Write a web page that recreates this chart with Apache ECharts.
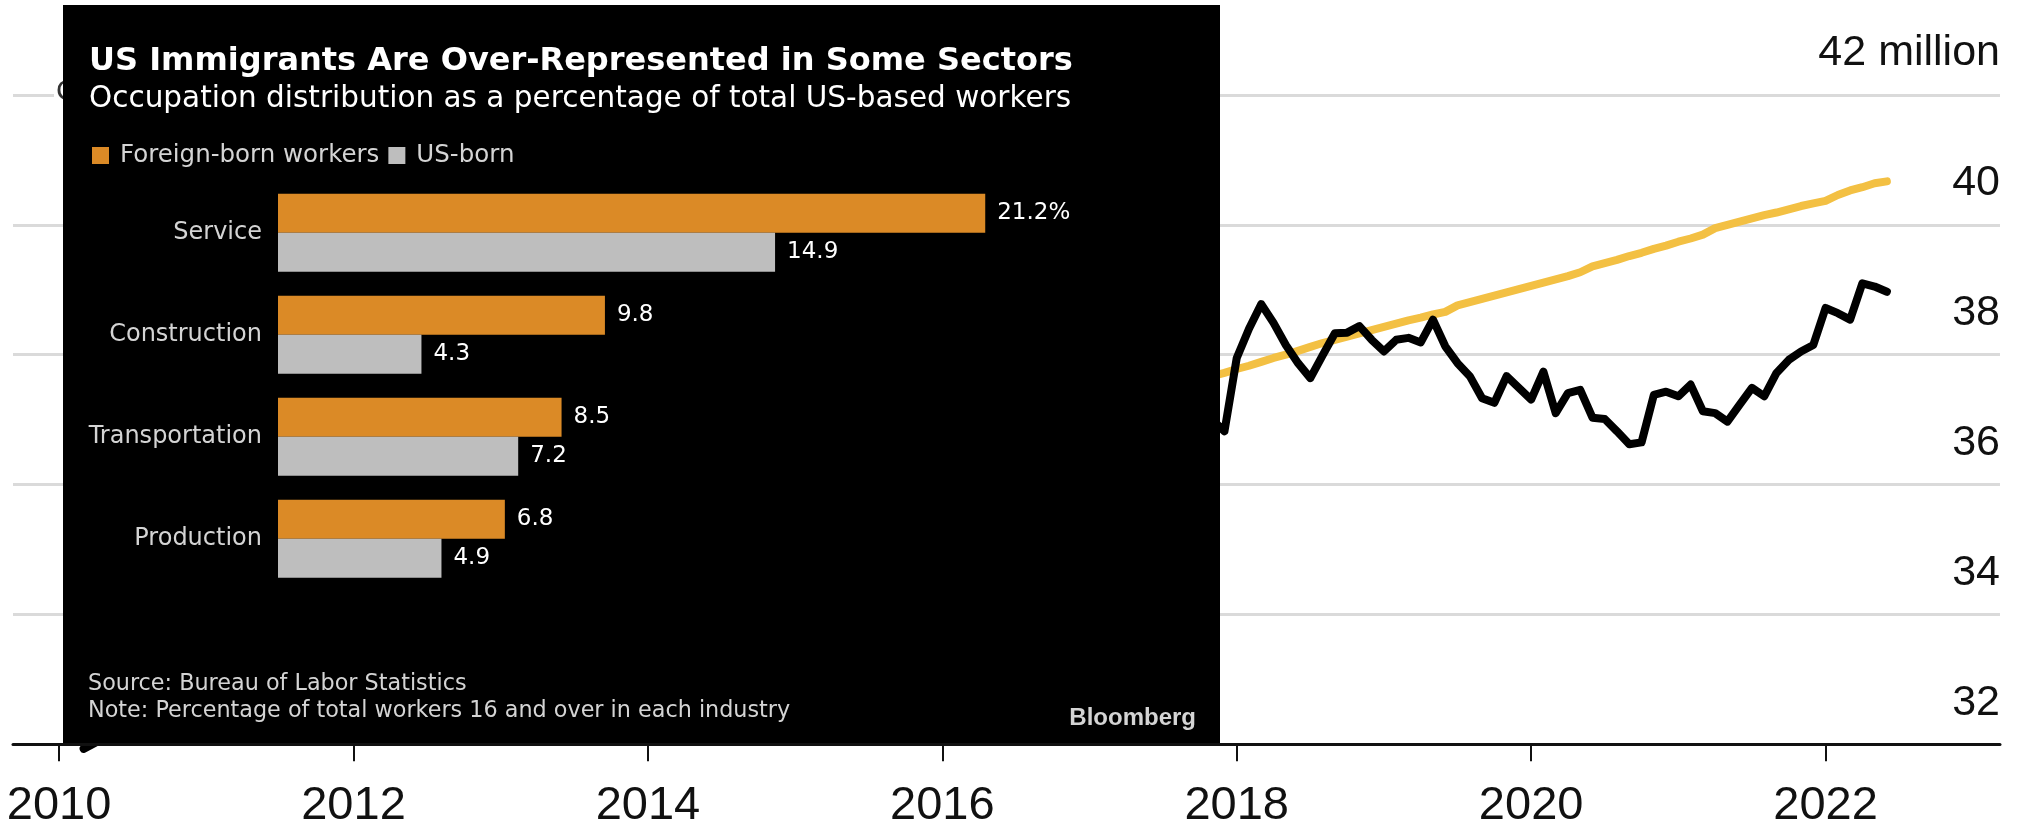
<!DOCTYPE html>
<html>
<head>
<meta charset="utf-8">
<script src="https://cdn.jsdelivr.net/npm/echarts@6/dist/echarts.min.js"></script>
<style>
html,body{margin:0;padding:0;background:#fff;}
#chart{width:2031px;height:832px;}
</style>
</head>
<body>
<div id="chart"></div>
<script>
// ---------- Inset bar chart data ----------
const categories = ['Service', 'Construction', 'Transportation', 'Production'];
const foreignBorn = [21.2, 9.8, 8.5, 6.8];
const usBorn = [14.9, 4.3, 7.2, 4.9];
const barSeriesNames = ['Foreign-born workers', 'US-born'];

// ---------- Background line chart data (millions) ----------
const xTickYears = [2010, 2012, 2014, 2016, 2018, 2020, 2022];
const yTicks = [32, 34, 36, 38, 40, 42];

const blackMonths = ['2010-03','2010-04','2017-11','2017-12',
 '2018-01','2018-02','2018-03','2018-04','2018-05','2018-06','2018-07','2018-08','2018-09','2018-10','2018-11','2018-12',
 '2019-01','2019-02','2019-03','2019-04','2019-05','2019-06','2019-07','2019-08','2019-09','2019-10','2019-11','2019-12',
 '2020-01','2020-02','2020-03','2020-04','2020-05','2020-06','2020-07','2020-08','2020-09','2020-10','2020-11','2020-12',
 '2021-01','2021-02','2021-03','2021-04','2021-05','2021-06','2021-07','2021-08','2021-09','2021-10','2021-11','2021-12',
 '2022-01','2022-02','2022-03','2022-04','2022-05','2022-06'];
const blackValues = [31.93, 32.03, 37.0, 36.82,
 37.95, 38.40, 38.78, 38.49, 38.15, 37.87, 37.64, 37.99, 38.33, 38.34, 38.44, 38.23,
 38.05, 38.23, 38.26, 38.19, 38.54, 38.13, 37.87, 37.67, 37.33, 37.26, 37.67, 37.49,
 37.31, 37.74, 37.10, 37.41, 37.46, 37.03, 37.01, 36.82, 36.62, 36.65, 37.38, 37.43,
 37.36, 37.54, 37.13, 37.10, 36.97, 37.23, 37.49, 37.36, 37.72, 37.92, 38.05, 38.15,
 38.72, 38.64, 38.54, 39.10, 39.05, 38.97];

const yellowMonths = ['2017-11','2017-12',
 '2018-01','2018-02','2018-03','2018-04','2018-05','2018-06','2018-07','2018-08','2018-09','2018-10','2018-11','2018-12',
 '2019-01','2019-02','2019-03','2019-04','2019-05','2019-06','2019-07','2019-08','2019-09','2019-10','2019-11','2019-12',
 '2020-01','2020-02','2020-03','2020-04','2020-05','2020-06','2020-07','2020-08','2020-09','2020-10','2020-11','2020-12',
 '2021-01','2021-02','2021-03','2021-04','2021-05','2021-06','2021-07','2021-08','2021-09','2021-10','2021-11','2021-12',
 '2022-01','2022-02','2022-03','2022-04','2022-05','2022-06'];
const yellowValues = [37.67, 37.72,
 37.78, 37.83, 37.89, 37.95, 38.00, 38.06, 38.12, 38.18, 38.23, 38.28, 38.33, 38.38,
 38.43, 38.48, 38.53, 38.57, 38.62, 38.66, 38.76, 38.81, 38.86, 38.91, 38.96, 39.01,
 39.06, 39.11, 39.16, 39.21, 39.27, 39.36, 39.41, 39.46, 39.52, 39.57, 39.63, 39.68,
 39.74, 39.79, 39.85, 39.95, 40.00, 40.05, 40.10, 40.15, 40.19, 40.24, 40.29, 40.33,
 40.37, 40.46, 40.53, 40.58, 40.64, 40.67];

function toYear(s) { const p = s.split('-').map(Number); return p[0] + (p[1] - 1) / 12; }
const blackData = blackMonths.map((m, i) => [toYear(m), blackValues[i]]);
const yellowData = yellowMonths.map((m, i) => [toYear(m), yellowValues[i]]);

const panelFont = "'DejaVu Sans', sans-serif";
const axisFont = "'Liberation Sans', Arial, sans-serif";

const chart = echarts.init(document.getElementById('chart'), null, {renderer: 'canvas'});
chart.setOption({
  backgroundColor: '#ffffff',
  animation: false,
  grid: [
    {left: 13, right: 31, top: 95, bottom: 87.7},
    {left: 278, top: 181.7, width: 834, height: 408}
  ],
  xAxis: [
    {
      gridIndex: 0, type: 'value', min: 2009.687, max: 2023.185,
      splitLine: {show: false},
      axisLine: {show: true, lineStyle: {color: '#111', width: 3}},
      axisTick: {show: true, customValues: xTickYears, length: 17, lineStyle: {color: '#111', width: 2}},
      axisLabel: {customValues: xTickYears, formatter: v => String(Math.round(v)),
        fontSize: 47, color: '#111', margin: 38, fontFamily: axisFont},
      z: 5
    },
    {gridIndex: 1, type: 'value', min: 0, max: 25, show: false}
  ],
  yAxis: [
    {
      gridIndex: 0, type: 'value', position: 'right', min: 32, max: 42, interval: 2,
      axisLine: {show: false}, axisTick: {show: false},
      splitLine: {show: true, showMinLine: false, lineStyle: {color: '#dadada', width: 3}},
      axisLabel: {inside: true, margin: 0, fontSize: 43, color: '#111', fontFamily: axisFont,
        verticalAlign: 'bottom', padding: [0, 0, 20, 0],
        formatter: v => v === 42 ? '42 million' : String(v)}
    },
    {
      gridIndex: 1, type: 'category', data: categories, inverse: true,
      axisLine: {show: false}, axisTick: {show: false}, splitLine: {show: false},
      axisLabel: {color: '#d4d4d4', fontSize: 24, margin: 16, fontFamily: panelFont},
      z: 30
    }
  ],
  legend: {
    data: barSeriesNames, left: 92, top: 143, padding: 0,
    itemWidth: 17, itemHeight: 17, itemGap: 9, icon: 'rect', selectedMode: false,
    textStyle: {color: '#d4d4d4', fontSize: 24.5, fontFamily: panelFont, padding: [0, 0, 0, 6]},
    z: 30
  },
  graphic: {
    elements: [
      {type: 'text', x: 54, y: 92, z: 1,
        style: {text: 'C', fontSize: 30, fontFamily: axisFont, fill: '#333',
          verticalAlign: 'middle', backgroundColor: '#fff', padding: [2, 2, 2, 2]}},
      {type: 'rect', z: 10, shape: {x: 63, y: 5, width: 1157, height: 738}, style: {fill: '#000'}},
      {type: 'text', x: 89, y: 62, z: 20,
        style: {text: 'US Immigrants Are Over-Represented in Some Sectors', fontSize: 32, fontWeight: 'bold',
          fontFamily: panelFont, fill: '#ffffff', verticalAlign: 'middle'}},
      {type: 'text', x: 89, y: 99, z: 20,
        style: {text: 'Occupation distribution as a percentage of total US-based workers', fontSize: 29.5,
          fontFamily: panelFont, fill: '#ffffff', verticalAlign: 'middle'}},
      {type: 'text', x: 88, y: 684, z: 20,
        style: {text: 'Source: Bureau of Labor Statistics', fontSize: 22.3,
          fontFamily: panelFont, fill: '#d4d4d4', verticalAlign: 'middle'}},
      {type: 'text', x: 88, y: 711, z: 20,
        style: {text: 'Note: Percentage of total workers 16 and over in each industry', fontSize: 22.3,
          fontFamily: panelFont, fill: '#d4d4d4', verticalAlign: 'middle'}},
      {type: 'text', x: 1196, y: 718, z: 20,
        style: {text: 'Bloomberg', fontSize: 24, fontWeight: 'bold', align: 'right',
          fontFamily: axisFont, fill: '#d4d4d4', verticalAlign: 'middle'}}
    ]
  },
  series: [
    {
      type: 'line', xAxisIndex: 0, yAxisIndex: 0, data: yellowData, symbol: 'none', clip: false,
      lineStyle: {color: '#F3C043', width: 8, cap: 'round', join: 'round'}, z: 2
    },
    {
      type: 'line', xAxisIndex: 0, yAxisIndex: 0, data: blackData, symbol: 'none', clip: false,
      lineStyle: {color: '#000000', width: 8, cap: 'round', join: 'round'}, z: 3
    },
    {
      name: barSeriesNames[0], type: 'bar', xAxisIndex: 1, yAxisIndex: 1, data: foreignBorn,
      barWidth: 39, barGap: '0%', itemStyle: {color: '#DB8A26'},
      label: {show: true, position: 'right', distance: 12, color: '#ffffff', fontSize: 23, fontFamily: panelFont,
        formatter: p => p.dataIndex === 0 ? p.value.toFixed(1) + '%' : p.value.toFixed(1)},
      z: 30
    },
    {
      name: barSeriesNames[1], type: 'bar', xAxisIndex: 1, yAxisIndex: 1, data: usBorn,
      barWidth: 39, barGap: '0%', itemStyle: {color: '#BEBEBE'},
      label: {show: true, position: 'right', distance: 12, color: '#ffffff', fontSize: 23, fontFamily: panelFont,
        formatter: p => p.value.toFixed(1)},
      z: 30
    }
  ]
});
</script>
</body>
</html>
